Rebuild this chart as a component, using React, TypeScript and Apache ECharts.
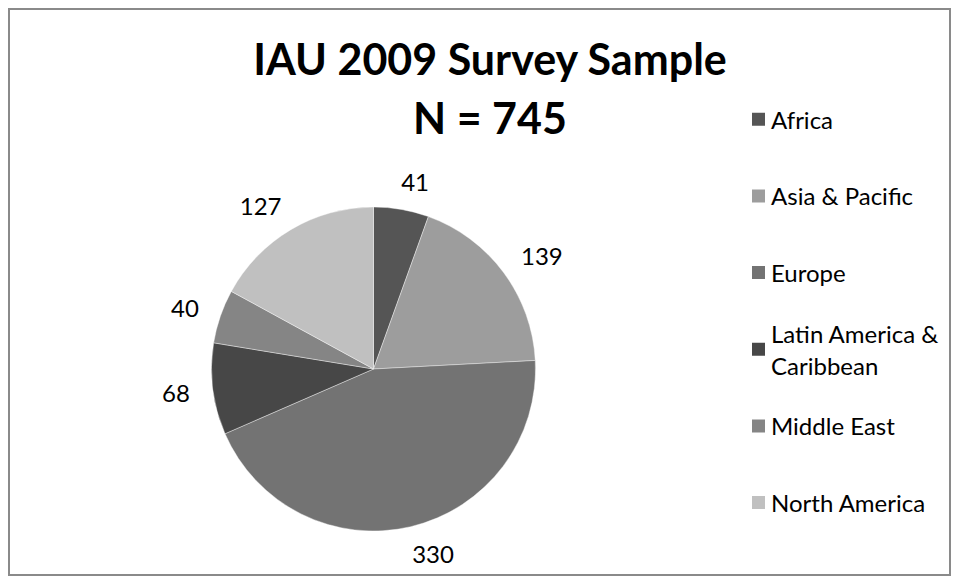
import React, { useEffect, useRef } from 'react';
import * as echarts from 'echarts';

const categories = ['Africa', 'Asia & Pacific', 'Europe', 'Latin America & Caribbean', 'Middle East', 'North America'];
const counts = [41, 139, 330, 68, 40, 127];
const sliceColors = ['#555555', '#9d9d9d', '#737373', '#474747', '#858585', '#c0c0c0'];
const titleLines = ['IAU 2009 Survey Sample', 'N = 745'];

function wrapName(name: string): string {
  if (name.length <= 18) return name;
  const cut = name.lastIndexOf(' ');
  return name.slice(0, cut) + '\n' + name.slice(cut + 1);
}

export default function App() {
  const ref = useRef<HTMLDivElement>(null);

  useEffect(() => {
    const chart = echarts.init(ref.current!, null, { renderer: 'svg' });
    const font = 'Lato, "Open Sans", sans-serif';
    const lh = 32;
    const legendStep = 76.66;
    const firstIconCenter = 111.3;

    const legends = categories.map((name, i) => {
      const text = wrapName(name);
      const lines = text.split('\n').length;
      const extraTop = (lines - 1) * lh;
      const half = (lines * lh + extraTop) / 2;
      return {
        data: [name],
        orient: 'vertical',
        left: 742,
        top: firstIconCenter + i * legendStep - half,
        padding: 0,
        itemWidth: 15,
        itemHeight: 15,
        icon: 'rect',
        selectedMode: false,
        formatter: (n: string) => wrapName(n),
        textStyle: {
          fontFamily: font,
          fontSize: 24,
          color: '#000',
          lineHeight: lh,
          padding: [extraTop, 0, 0, 0],
        },
      };
    });

    chart.setOption({
      animation: false,
      backgroundColor: '#ffffff',
      title: {
        text: titleLines.join('\n'),
        left: 482,
        top: 20.5,
        padding: 0,
        textAlign: 'center',
        textStyle: {
          fontFamily: font,
          fontWeight: 'bold',
          fontSize: 43,
          lineHeight: 59,
          color: '#000',
        },
      },
      legend: legends,
      graphic: [
        {
          type: 'rect',
          shape: { x: 1, y: 1, width: 941, height: 566 },
          style: { fill: 'none', stroke: '#8a8a8a', lineWidth: 2 },
          silent: true,
        },
      ],
      series: [
        {
          type: 'pie',
          center: [365.5, 361],
          radius: 162,
          startAngle: 90,
          clockwise: true,
          avoidLabelOverlap: false,
          emphasis: { disabled: true },
          itemStyle: { borderColor: '#ffffff', borderWidth: 0.4 },
          label: {
            show: true,
            position: 'outside',
            formatter: '{c}',
            fontFamily: font,
            fontSize: 24,
            color: '#000',
            distanceToLabelLine: -5,
          },
          labelLine: { show: false, length: 28, length2: 0 },
          data: categories.map((name, i) => ({
            name,
            value: counts[i],
            itemStyle: { color: sliceColors[i] },
          })),
        },
      ],
    });

    return () => chart.dispose();
  }, []);

  return <div ref={ref} style={{ width: 943, height: 568 }} />;
}
